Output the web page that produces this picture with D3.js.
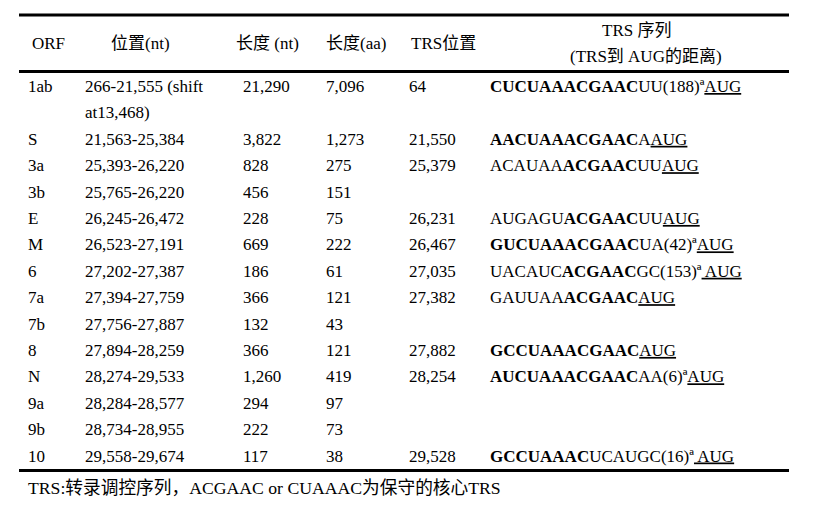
<!DOCTYPE html>
<html>
<head>
<meta charset="utf-8">
<script src="https://cdn.jsdelivr.net/npm/d3@7"></script>
<style>
  body { margin: 0; background: #fff; }
  text { font-family: "Liberation Serif", "Times New Roman", serif, "Noto Sans CJK SC"; font-size: 17px; fill: #000; }
  text.note { font-size: 17.7px; }
</style>
</head>
<body>
<svg id="chart" width="819" height="508"></svg>
<script>
// table contents
const headers = ["ORF", "位置(nt)", "长度 (nt)", "长度(aa)", "TRS位置", "TRS 序列\n(TRS到 AUG的距离)"];
const orfs = ["1ab", "S", "3a", "3b", "E", "M", "6", "7a", "7b", "8", "N", "9a", "9b", "10"];
const positions = ["266-21,555 (shift\nat13,468)", "21,563-25,384", "25,393-26,220", "25,765-26,220",
  "26,245-26,472", "26,523-27,191", "27,202-27,387", "27,394-27,759", "27,756-27,887",
  "27,894-28,259", "28,274-29,533", "28,284-28,577", "28,734-28,955", "29,558-29,674"];
const lengthNt = ["21,290", "3,822", "828", "456", "228", "669", "186", "366", "132", "366", "1,260", "294", "222", "117"];
const lengthAa = ["7,096", "1,273", "275", "151", "75", "222", "61", "121", "43", "121", "419", "97", "73", "38"];
const trsPos = ["64", "21,550", "25,379", "", "26,231", "26,467", "27,035", "27,382", "", "27,882", "28,254", "", "", "29,528"];
// [..] = bold, _.._ = underlined
const trsSeq = ["[CUCUAAACGAAC]UU(188)ª_AUG_", "[AACUAAACGAAC]A_AUG_", "ACAUAA[ACGAAC]UU_AUG_", "",
  "AUGAGU[ACGAAC]UU_AUG_", "[GUCUAAACGAAC]UA(42)ª_AUG_", "UACAUC[ACGAAC]GC(153)ª_ AUG_",
  "GAUUAA[ACGAAC]_AUG_", "", "[GCCUAAACGAAC]_AUG_", "[AUCUAAACGAAC]AA(6)ª_AUG_", "", "",
  "[GCCUAAAC]UCAUGC(16)ª_ AUG_"];
const footnote = "TRS:转录调控序列，ACGAAC or CUAAAC为保守的核心TRS";

const left = 19, right = 789;

const svg = d3.select("#chart");

// columns
const colKeys = ["orf", "pos", "nt", "aa", "trs", "seq"];
const x = d3.scaleOrdinal().domain(colKeys).range([28, 85, 243, 326, 409, 490]);

// each row takes line slots; 1ab wraps to two lines
const slots = [];
let s = 0;
positions.forEach(p => { slots.push(s); s += p.split("\n").length; });
const y = d3.scaleLinear().domain([0, s - 1]).range([92, 461.5]);

// rules
const rules = [{ y: 15, w: 3 }, { y: 71.5, w: 3 }, { y: 470.5, w: 3 }];
svg.selectAll("line.rule")
  .data(rules)
  .enter().append("line")
    .attr("class", "rule")
    .attr("x1", left).attr("x2", right)
    .attr("y1", d => d.y).attr("y2", d => d.y)
    .attr("stroke", "#000")
    .attr("stroke-width", d => d.w);

// header
const headX = [[32], [111], [236], [326], [411], [602, 570]];
headers.forEach((h, i) => {
  const lines = h.split("\n");
  const t = svg.append("text");
  lines.forEach((l, j) => {
    const ly = lines.length === 1 ? 49 : 36 + j * 25.7;
    t.append("tspan").attr("x", headX[i][j]).attr("y", ly).text(l);
  });
});

// simple columns
function drawColumn(key, values) {
  svg.append("g").selectAll("text")
    .data(values)
    .enter().append("text")
      .attr("x", x(key))
      .each(function(d, i) {
        d.split("\n").forEach((l, j) => {
          d3.select(this).append("tspan")
            .attr("x", x(key))
            .attr("y", y(slots[i] + j))
            .text(l);
        });
      });
}
drawColumn("orf", orfs);
drawColumn("pos", positions);
drawColumn("nt", lengthNt);
drawColumn("aa", lengthAa);
drawColumn("trs", trsPos);

// sequence column with bold / underline runs
function parseSeq(str) {
  const runs = [];
  let bold = false, under = false, buf = "";
  const flush = () => { if (buf) runs.push({ t: buf, bold, under }); buf = ""; };
  for (const c of str) {
    if (c === "[" || c === "]") { flush(); bold = c === "["; }
    else if (c === "_") { flush(); under = !under; }
    else buf += c;
  }
  flush();
  return runs;
}

svg.append("g").selectAll("text")
  .data(trsSeq)
  .enter().append("text")
    .attr("x", x("seq"))
    .attr("y", (d, i) => y(slots[i]))
    .style("white-space", "pre")
    .each(function(d) {
      d3.select(this).selectAll("tspan")
        .data(parseSeq(d))
        .enter().append("tspan")
          .attr("font-weight", r => r.bold ? "bold" : null)
          .style("text-decoration", r => r.under ? "underline" : null)
          .text(r => r.t);
    });

// footnote
svg.append("text")
  .attr("class", "note")
  .attr("x", 28)
  .attr("y", 494)
  .text(footnote);
</script>
</body>
</html>
